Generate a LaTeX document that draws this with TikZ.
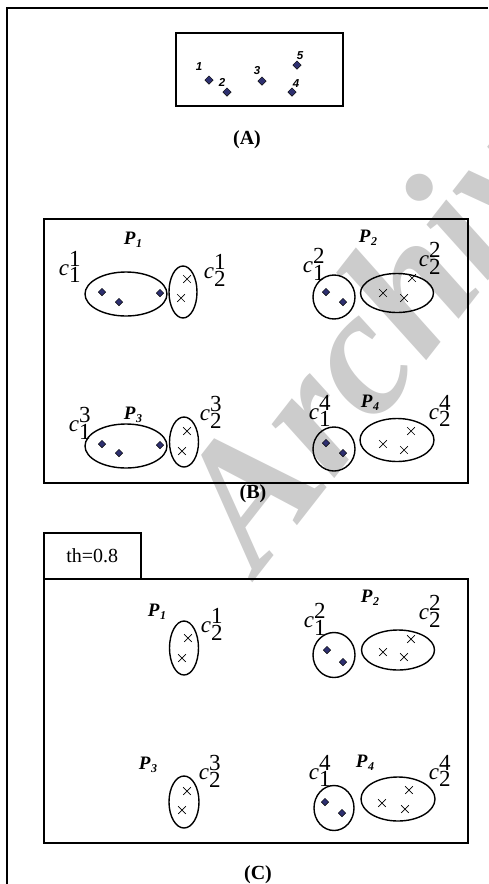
\documentclass[tikz,border=0pt]{standalone}
\usepackage{fontspec}
\setmainfont{Liberation Serif}
\setsansfont{Liberation Sans}
\usetikzlibrary{shapes.geometric,shapes.misc}
\definecolor{navy}{HTML}{2E3070}
\newcommand\clab[2]{\textit{c}$_{\textrm{#1}}^{\textrm{#2}}$}
\newcommand\plab[1]{\bfseries\itshape P\kern0.5pt\raisebox{-0.35ex}{\fontsize{12}{12}\selectfont #1}}
\begin{document}
\begin{tikzpicture}[x=1pt,y=-1pt,
  frame/.style={line width=1.6pt},
  boxline/.style={draw,line width=1.5pt},
  dia/.style={diamond,draw=black,fill=navy,inner sep=0pt,minimum size=7.5pt,line width=0.5pt},
  xm/.style={cross out,draw,inner sep=0pt,minimum size=7pt,line width=0.7pt},
  ell/.style={ellipse,draw,line width=1.4pt,inner sep=0pt},
  clabel/.style={font=\fontsize{23}{23}\selectfont,inner sep=0pt},
  plabel/.style={font=\fontsize{19}{19}\selectfont,inner sep=0pt},
  nlabel/.style={font=\sffamily\bfseries\itshape\fontsize{11.5}{11.5}\selectfont,inner sep=0pt},
  captext/.style={font=\bfseries\fontsize{20}{20}\selectfont,inner sep=0pt}
]
\useasboundingbox (0,0) rectangle (488,884);
\begin{scope}
\clip (0,0) rectangle (488,884);
\node[rotate=52,anchor=base west,inner sep=0pt,text=black!20,
  font=\fontsize{180}{180}\selectfont\bfseries\itshape] (wm) at (258,576) {Archive};
\end{scope}
% outer frame
\coordinate (fa) at (7,884);
\coordinate (fb) at (7,8);
\coordinate (fc) at (488,8);
\draw[frame] (fa) -- (fb) -- (fc);

% ---- (A)
\node[boxline,minimum width=167pt,minimum height=73pt,anchor=north west] (boxA) at (175,32) {};
\node[dia,minimum size=8.5pt] (a1) at (209,80) {};
\node[dia,minimum size=8.5pt] (a2) at (227,92) {};
\node[dia,minimum size=8.5pt] (a3) at (262,81) {};
\node[dia,minimum size=8.5pt] (a4) at (292,92) {};
\node[dia,minimum size=8.5pt] (a5) at (297,65) {};
\node[nlabel] (l1) at (199,67) {1};
\node[nlabel] (l2) at (222,82) {2};
\node[nlabel] (l3) at (257,71) {3};
\node[nlabel] (l4) at (296,84) {4};
\node[nlabel] (l5) at (300,56) {5};
\node[captext] (capA) at (247,140) {(A)};

% ---- (B)
\node[boxline,minimum width=424pt,minimum height=264pt,anchor=north west] (boxB) at (43,218) {};
\node[captext] (capB) at (253,494) {(B)};
% P1
\node[plabel] (p1) at (133,240) {\plab{1}};
\node[clabel] (c11) at (70,267) {\clab{1}{1}};
\node[ell,minimum width=82pt,minimum height=44pt] (e11) at (126,294) {};
\node[dia] (b1a) at (102,292) {};
\node[dia] (b1b) at (119,302) {};
\node[dia] (b1c) at (160,293) {};
\node[ell,minimum width=28pt,minimum height=52pt] (e12) at (183,292) {};
\node[xm] (b1x) at (187,279) {};
\node[xm] (b1y) at (181,298) {};
\node[clabel] (c12) at (215,270) {\clab{2}{1}};
% P2
\node[plabel] (p2) at (368,238) {\plab{2}};
\node[clabel] (c21) at (314,264) {\clab{1}{2}};
\node[ell,minimum width=42pt,minimum height=44pt] (e21) at (334,297) {};
\node[dia] (b2a) at (326,292) {};
\node[dia] (b2b) at (343,302) {};
\node[ell,minimum width=73pt,minimum height=39pt] (e22) at (397,293) {};
\node[xm] (b2x) at (412,278) {};
\node[xm] (b2y) at (383,293) {};
\node[xm] (b2z) at (404,298) {};
\node[clabel] (c22) at (430,258) {\clab{2}{2}};
% P3
\node[plabel] (p3) at (133,415) {\plab{3}};
\node[clabel] (c31) at (80,423) {\clab{1}{3}};
\node[ell,minimum width=82pt,minimum height=44pt] (e31) at (126,446) {};
\node[dia] (b3a) at (102,444) {};
\node[dia] (b3b) at (119,453) {};
\node[dia] (b3c) at (160,445) {};
\node[ell,minimum width=29pt,minimum height=50pt] (e32) at (184,442) {};
\node[xm] (b3x) at (187,431) {};
\node[xm] (b3y) at (182,451) {};
\node[clabel] (c32) at (211,412) {\clab{2}{3}};
% P4
\node[plabel] (p4) at (370,403) {\plab{4}};
\node[clabel] (c41) at (320,411) {\clab{1}{4}};
\node[ell,minimum width=42pt,minimum height=44pt] (e41) at (334,449) {};
\node[dia] (b4a) at (326,443) {};
\node[dia] (b4b) at (343,453) {};
\node[ell,minimum width=74pt,minimum height=43pt] (e42) at (397,440) {};
\node[xm] (b4x) at (411,431) {};
\node[xm] (b4y) at (383,444) {};
\node[xm] (b4z) at (404,450) {};
\node[clabel] (c42) at (440,411) {\clab{2}{4}};

% ---- (C)
\node[boxline,minimum width=97pt,minimum height=46pt,anchor=north west] (th) at (43,532) {};
\node[font=\fontsize{20}{20}\selectfont,inner sep=0pt] (thtext) at (th.center) {th=0.8};
\node[boxline,minimum width=424pt,minimum height=264pt,anchor=north west] (boxC) at (43,578) {};
\node[captext] (capC) at (258,875) {(C)};
% P1
\node[plabel] (q1) at (157,612) {\plab{1}};
\node[ell,minimum width=29pt,minimum height=54pt] (f12) at (184,648) {};
\node[xm] (c1x) at (188,638) {};
\node[xm] (c1y) at (182,658) {};
\node[clabel] (d12) at (212,624) {\clab{2}{1}};
% P2
\node[plabel] (q2) at (370,598) {\plab{2}};
\node[clabel] (d21) at (315,619) {\clab{1}{2}};
\node[ell,minimum width=42pt,minimum height=45pt] (f21) at (334,655) {};
\node[dia] (c2a) at (327,650) {};
\node[dia] (c2b) at (343,662) {};
\node[ell,minimum width=73pt,minimum height=40pt] (f22) at (398,650) {};
\node[xm] (c2x) at (411,639) {};
\node[xm] (c2y) at (383,652) {};
\node[xm] (c2z) at (404,657) {};
\node[clabel] (d22) at (430,611) {\clab{2}{2}};
% P3
\node[plabel] (q3) at (148,765) {\plab{3}};
\node[ell,minimum width=30pt,minimum height=52pt] (f32) at (184,802) {};
\node[xm] (c3x) at (187,791) {};
\node[xm] (c3y) at (182,810) {};
\node[clabel] (d32) at (210,771) {\clab{2}{3}};
% P4
\node[plabel] (q4) at (365,763) {\plab{4}};
\node[clabel] (d41) at (320,771) {\clab{1}{4}};
\node[ell,minimum width=40pt,minimum height=45pt] (f41) at (334,808) {};
\node[dia] (c4a) at (325,802) {};
\node[dia] (c4b) at (342,813) {};
\node[ell,minimum width=74pt,minimum height=44pt] (f42) at (398,799) {};
\node[xm] (c4x) at (409,790) {};
\node[xm] (c4y) at (382,803) {};
\node[xm] (c4z) at (405,809) {};
\node[clabel] (d42) at (440,771) {\clab{2}{4}};
\end{tikzpicture}
\end{document}
